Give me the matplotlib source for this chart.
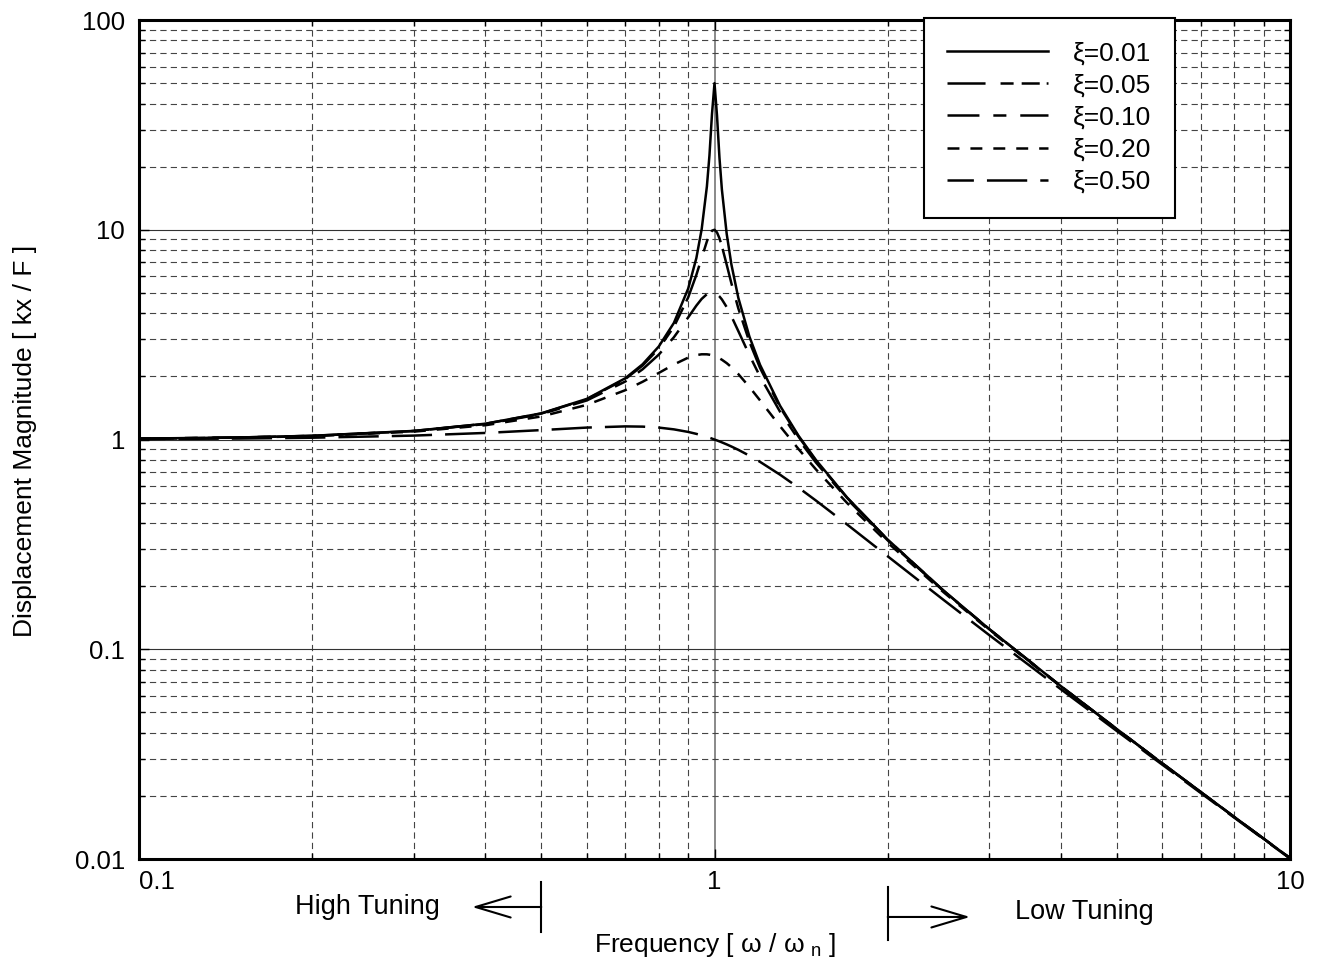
import matplotlib
matplotlib.use('Agg')
import matplotlib.pyplot as plt
import matplotlib.ticker as ticker
import numpy as np

# --- DATA ---
freq = [0.1, 0.15, 0.2, 0.3, 0.4, 0.5, 0.6, 0.7, 0.75, 0.8, 0.85, 0.9, 0.93, 0.95,
        0.97, 0.98, 0.99, 1.0, 1.01, 1.02, 1.03, 1.05, 1.07, 1.1, 1.15, 1.2, 1.3,
        1.4, 1.5, 1.7, 2.0, 2.5, 3.0, 4.0, 5.0, 6.0, 8.0, 10.0]

mag_001 = [1.010, 1.023, 1.042, 1.099, 1.190, 1.333, 1.562, 1.960, 2.284, 2.775, 3.597,
           5.240, 7.333, 10.07, 16.08, 22.63, 35.62, 50.0, 35.09, 22.10, 15.55, 9.557,
           6.827, 4.736, 3.093, 2.269, 1.448, 1.041, 0.7998, 0.5290, 0.3333, 0.1905,
           0.1250, 0.06667, 0.04167, 0.02857, 0.01587, 0.01010]
mag_005 = [1.005, 1.023, 1.041, 1.098, 1.189, 1.330, 1.556, 1.943, 2.253, 2.712, 3.446,
           4.757, 6.097, 7.346, 8.804, 9.461, 9.903, 10.0, 9.711, 9.115, 8.357, 6.815,
           5.552, 4.218, 2.921, 2.193, 1.424, 1.031, 0.7943, 0.5270, 0.3326, 0.1903,
           0.1249, 0.06664, 0.04166, 0.02857, 0.01587, 0.01010]
mag_010 = [1.010, 1.023, 1.041, 1.097, 1.185, 1.322, 1.536, 1.891, 2.162, 2.538, 3.073,
           3.821, 4.350, 4.683, 4.931, 5.001, 5.025, 5.0, 4.926, 4.809, 4.655, 4.279,
           3.869, 3.288, 2.525, 1.995, 1.356, 1.000, 0.7779, 0.5207, 0.3304, 0.1896,
           0.1247, 0.06657, 0.04163, 0.02855, 0.01587, 0.01010]
mag_020 = [1.009, 1.021, 1.038, 1.090, 1.170, 1.288, 1.463, 1.719, 1.885, 2.076, 2.279,
           2.457, 2.527, 2.549, 2.548, 2.538, 2.522, 2.5, 2.472, 2.439, 2.401, 2.313,
           2.213, 2.051, 1.780, 1.536, 1.157, 0.8998, 0.7212, 0.4979, 0.3221, 0.1871,
           0.1236, 0.06629, 0.04152, 0.02850, 0.01585, 0.01009]
mag_050 = [1.005, 1.011, 1.020, 1.044, 1.075, 1.109, 1.140, 1.155, 1.152, 1.140, 1.118,
           1.087, 1.064, 1.047, 1.029, 1.020, 1.010, 1.0, 0.9899, 0.9796, 0.9692, 0.9479,
           0.9261, 0.8930, 0.8373, 0.7824, 0.6795, 0.5891, 0.5121, 0.3934, 0.2774, 0.1720,
           0.1170, 0.06442, 0.04079, 0.02816, 0.01575, 0.01005]

labels = ['\u03be=0.01', '\u03be=0.05', '\u03be=0.10', '\u03be=0.20', '\u03be=0.50']
y_ticks = [0.01, 0.1, 1, 10, 100]
y_ticklabels = ['0.01', '0.1', '1', '10', '100']
x_ticks = [0.1, 1, 10]
x_ticklabels = ['0.1', '1', '10']

# dash patterns in points (not scaled by line width)
dash_styles = [None, (27.4, 10.8, 9.4, 5.8, 13, 5), (23, 10, 9.4, 10), (8.6, 7.9), (29, 9.4)]
dash_offsets = [0, 0, 0, 0, 10]

plt.rcParams['font.family'] = ['Liberation Sans', 'DejaVu Sans']
plt.rcParams['lines.scale_dashes'] = False

fig = plt.figure(figsize=(13.19, 9.68), dpi=100)
ax = fig.add_axes([0.1054, 0.1126, 0.8726, 0.8667])
ax.set_xscale('log')
ax.set_yscale('log')
ax.set_xlim(0.1, 10)
ax.set_ylim(0.01, 100)

# grid: dashed minor, solid major
ax.grid(True, which='minor', linestyle=(0, (4.5, 3)), color='#444444', linewidth=0.8)
ax.grid(True, which='major', axis='y', linestyle='-', color='#333333', linewidth=0.8)
ax.grid(True, which='major', axis='x', linestyle='-', color='#808080', linewidth=1.3)
ax.set_axisbelow(True)

series = [mag_001, mag_005, mag_010, mag_020, mag_050]
for vals, lab, ds, off in zip(series, labels, dash_styles, dash_offsets):
    line, = ax.plot(freq, vals, color='black', linewidth=1.8, label=lab)
    if ds is not None:
        line.set_linestyle((off, ds))

ax.set_xticks(x_ticks)
ax.set_xticklabels(x_ticklabels)
ax.set_yticks(y_ticks)
ax.set_yticklabels(y_ticklabels)
ax.xaxis.set_minor_locator(ticker.LogLocator(base=10, subs=np.arange(2, 10), numticks=20))
ax.yaxis.set_minor_locator(ticker.LogLocator(base=10, subs=np.arange(2, 10), numticks=20))
ax.xaxis.set_minor_formatter(ticker.NullFormatter())
ax.yaxis.set_minor_formatter(ticker.NullFormatter())
ax.tick_params(which='both', direction='in', top=True, right=True, width=1, color='black')
ax.tick_params(which='major', length=7, labelsize=18.5)
ax.tick_params(axis='y', which='major', pad=10)
ax.tick_params(axis='x', which='major', pad=8)
ax.tick_params(which='minor', length=4)
ax.get_xticklabels()[0].set_horizontalalignment('left')
for sp in ax.spines.values():
    sp.set_linewidth(2.2)
    sp.set_zorder(5)

leg = ax.legend(loc='upper right', bbox_to_anchor=(0.900, 1.003), fontsize=19,
                handlelength=3.8, handletextpad=0.95, labelspacing=0.31,
                borderpad=0.9, fancybox=False, framealpha=1, edgecolor='black',
                borderaxespad=0)
leg.get_frame().set_linewidth(1.5)

# tuning annotations below the axis
trans = ax.get_xaxis_transform()
ax.plot([0.5, 0.5], [-0.0274, -0.0870], transform=trans, color='black', lw=1.5, clip_on=False)
ax.plot([2.0, 2.0], [-0.0334, -0.0965], transform=trans, color='black', lw=1.5, clip_on=False)
ax.annotate('', xy=(0.379, -0.0572), xytext=(0.5, -0.0572), xycoords=trans, textcoords=trans,
            arrowprops=dict(arrowstyle='->,head_length=1.4,head_width=0.42', lw=1.5,
                            shrinkA=0, shrinkB=0), fontsize=18)
ax.annotate('', xy=(2.78, -0.0691), xytext=(2.0, -0.0691), xycoords=trans, textcoords=trans,
            arrowprops=dict(arrowstyle='->,head_length=1.4,head_width=0.42', lw=1.5,
                            shrinkA=0, shrinkB=0), fontsize=18)
ax.text(0.249, -0.0572, 'High Tuning', transform=trans, ha='center', va='center', fontsize=19.5)
ax.text(4.40, -0.0632, 'Low Tuning', transform=trans, ha='center', va='center', fontsize=19.5)

ax.text(1.0, -0.1025, 'Frequency [ \u03c9 / \u03c9$_{\\ \\mathregular{n}}$ ]', transform=trans,
        ha='center', va='center', fontsize=19)
fig.text(0.019, 0.545, 'Displacement Magnitude [ kx / F ]', rotation=90,
         ha='center', va='center', fontsize=19)

fig.savefig('out.png', dpi=100)
